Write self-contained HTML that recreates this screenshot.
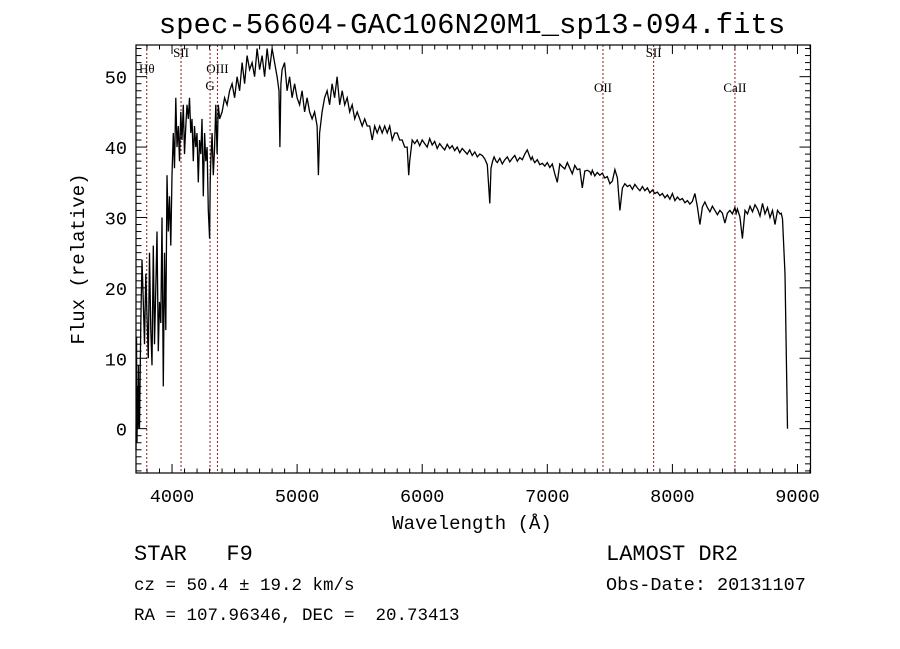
<!DOCTYPE html>
<html><head><meta charset="utf-8"><style>
html,body{margin:0;padding:0;background:#fff;}
svg{display:block;}
text{font-family:"Liberation Mono",monospace;fill:#000;}
.lbl{font-family:"Liberation Serif",serif;font-size:13px;}
</style></head><body>
<svg id="chart" width="900" height="649" viewBox="0 0 900 649" xmlns="http://www.w3.org/2000/svg">
<rect width="900" height="649" fill="#fff"/>
<text x="472" y="33" font-size="29" text-anchor="middle">spec-56604-GAC106N20M1_sp13-094.fits</text>
<g id="lines"></g>
<g id="spec"></g>
<rect x="136" y="45" width="674.5" height="428" fill="none" stroke="#000" stroke-width="1.2"/>
<g id="axes"></g>
<text transform="translate(84,259) rotate(-90)" font-size="19" text-anchor="middle">Flux (relative)</text>
<text x="472" y="529" font-size="19" text-anchor="middle">Wavelength (Å)</text>
<text x="134" y="560" font-size="22" xml:space="preserve">STAR   F9</text>
<text x="134" y="590" font-size="17.5">cz = 50.4 ± 19.2 km/s</text>
<text x="134" y="620" font-size="17.5" xml:space="preserve">RA = 107.96346, DEC =  20.73413</text>
<text x="606" y="560" font-size="22">LAMOST DR2</text>
<text x="606" y="590" font-size="18.5">Obs-Date: 20131107</text>
</svg>
<script>
const wavelengths = [3712,3716,3720,3724,3728,3732,3736,3740,3750,3760,3770,3780,3790,3800,3810,3820,3830,3840,3850,3860,3870,3880,3890,3900,3910,3920,3930,3940,3950,3960,3970,3980,3990,4000,4010,4020,4030,4040,4050,4060,4070,4080,4090,4100,4110,4120,4130,4140,4150,4160,4170,4180,4190,4200,4210,4220,4230,4240,4250,4260,4270,4280,4290,4300,4305,4310,4320,4330,4340,4350,4360,4370,4380,4400,4420,4440,4460,4480,4500,4520,4540,4560,4580,4600,4620,4640,4660,4680,4700,4720,4740,4760,4780,4800,4820,4840,4855,4862,4870,4880,4900,4920,4940,4960,4980,5000,5020,5040,5060,5080,5100,5120,5140,5160,5170,5180,5200,5220,5240,5260,5280,5300,5320,5340,5360,5380,5400,5420,5440,5460,5480,5500,5520,5540,5560,5580,5600,5620,5640,5660,5680,5700,5720,5740,5760,5780,5800,5820,5840,5860,5880,5892,5900,5920,5940,5960,5980,6000,6020,6040,6060,6080,6100,6120,6140,6160,6180,6200,6220,6240,6260,6280,6300,6320,6340,6360,6380,6400,6420,6440,6460,6480,6500,6520,6540,6550,6563,6575,6590,6600,6620,6640,6660,6680,6700,6720,6740,6760,6780,6800,6820,6840,6860,6870,6880,6890,6900,6920,6940,6960,6980,7000,7020,7040,7060,7080,7100,7120,7140,7160,7180,7200,7220,7240,7260,7280,7300,7320,7340,7350,7360,7380,7400,7420,7440,7460,7480,7500,7520,7540,7560,7580,7600,7620,7640,7660,7680,7700,7720,7740,7760,7780,7800,7820,7840,7860,7880,7900,7920,7940,7960,7980,8000,8020,8040,8060,8080,8100,8120,8140,8160,8180,8200,8220,8240,8260,8280,8300,8320,8340,8360,8380,8400,8420,8440,8460,8480,8500,8510,8520,8540,8560,8580,8600,8620,8640,8660,8680,8700,8720,8740,8760,8780,8800,8820,8840,8860,8870,8880,8900,8920,8940,8960,8975,8985,8992,8996,9000];
const fluxes = [-3,13,-2,6,0,9,2,0,15,24,18,12,22,16,10,25,14,9,26,12,20,28,11,18,15,30,6,25,14,36,28,33,26,36,42,37,47,40,43,38,45,41,46,39,43,46,44,47,42,44,38,43,40,42,35,41,39,44,33,42,38,40,31,27,35,38,42,36,40,46,39,46,44,45,47,46,48,49,47,50,48,52,49,53,51,52,50,54,51,53,50,54,51,54,52,50,48,40,49,51,52,48,50,47,49,47,46,48,45,47,45,44,45,43,36,42,45,47,48,46,49,47,50,46,48,46,47,45,46,44,45,44,43,44,43,43,41,43,42,43,42,43,42,43,41,42,42,41,41,40,40,36,38,41,40.5,41,40.2,41,40.5,40,41.2,40.3,40.8,39.8,40.5,40,39.6,40.4,39.8,40.2,39.5,40,39.2,39.8,39.4,39,39.6,38.8,39.3,38.6,39,38.8,38.3,37.5,32,37,38,38.6,38,37.8,38.4,37.6,38.2,38.6,37.9,38.4,38.8,38,38.5,38.2,39,39.6,38.6,38.2,38.6,38.1,37.8,38.2,37.5,37.7,37.3,37.8,37.1,37.6,36.2,35,37.6,37.2,36.9,37.8,37,36.2,37.4,36.8,36.9,34.2,36.6,36.7,36.5,36.1,36.7,35.9,36.4,36,36.3,35.6,35.8,34.8,35.2,36.8,35.6,31,34.2,34.8,34.4,34.6,34,34.7,34.2,33.8,34.4,33.8,34.2,33.5,33.9,33.4,33.6,33.1,33.4,32.8,33.2,32.6,33.4,32.4,32.9,32.5,32.7,32.1,32.4,31.9,32.3,33.4,31.5,29,31.5,32.2,31.4,30.8,31.6,31,30.4,31,30.6,29.2,30.6,31,30.5,31.4,30.6,31.2,30.1,27,31,30.5,31.6,30.8,31.8,31.2,30.2,32,30.5,31.4,30,31,29,31,30.5,30.6,29.8,22,0];
const yTicks = [0,10,20,30,40,50];
const xTicks = [4000,5000,6000,7000,8000,9000];
const lineNames = ["Hθ","SII","G","OIII","OII","SII","CaII"];
const lineWaves = [3798,4072,4304,4363,7445,7850,8500];
const labelRows = [73,57,90,73,92,57,92];

const NS="http://www.w3.org/2000/svg";
const L=136,R=810.5,T=45,B=473, X0=3712,X1=9104, Y0=-6.3,Y1=54.5;
const sx=w=>L+(w-X0)/(X1-X0)*(R-L);
const sy=f=>B-(f-Y0)/(Y1-Y0)*(B-T);
function mk(tag,attrs,parent){const e=document.createElementNS(NS,tag);for(const k in attrs)e.setAttribute(k,attrs[k]);parent.appendChild(e);return e;}

const spec=document.getElementById('spec');
let d='';
wavelengths.forEach((w,i)=>{d+=(i?'L':'M')+sx(w).toFixed(1)+' '+sy(fluxes[i]).toFixed(1);});
const p=mk('path',{d:d,fill:'none',stroke:'#000','stroke-width':1.3,'stroke-linejoin':'miter'},spec);



const lines=document.getElementById('lines');
lineWaves.forEach((w,i)=>{
  const x=sx(w);
  const l=mk('line',{x1:x,x2:x,y1:T,y2:B,stroke:'#8b1a1a','stroke-width':1,'stroke-dasharray':'2,2'},lines);
  
  
  const t=mk('text',{x:x,y:labelRows[i],'text-anchor':'middle',class:'lbl'},lines);
  t.textContent=lineNames[i];
  
  
});

const ax=document.getElementById('axes');
for(let w=3800;w<=9100;w+=100){
  const x=sx(w), major=w%1000===0, len=major?9:4.5;
  mk('line',{x1:x,x2:x,y1:B,y2:B-len,stroke:'#000','stroke-width':1},ax);
  mk('line',{x1:x,x2:x,y1:T,y2:T+len,stroke:'#000','stroke-width':1},ax);
}
for(let v=-6;v<=54;v++){
  const y=sy(v), major=v%10===0, len=major?11:5.5;
  mk('line',{x1:L,x2:L+len,y1:y,y2:y,stroke:'#000','stroke-width':1},ax);
  mk('line',{x1:R,x2:R-len,y1:y,y2:y,stroke:'#000','stroke-width':1},ax);
}
xTicks.forEach(v=>{
  const t=mk('text',{x:sx(v),y:502,'font-size':18.5,'text-anchor':'middle'},ax);
  t.textContent=v;
  
  
});
yTicks.forEach(v=>{
  const t=mk('text',{x:127,y:sy(v)+7,'font-size':18.5,'text-anchor':'end'},ax);
  t.textContent=v;
  
  
});
</script>
</body></html>
